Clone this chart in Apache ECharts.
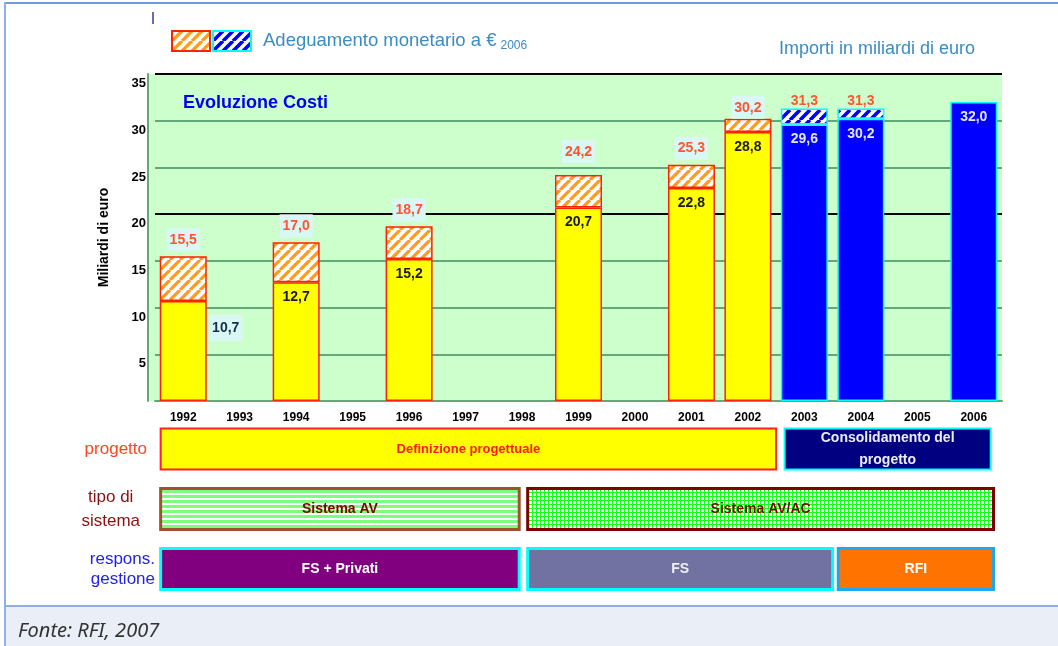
<!DOCTYPE html>
<html>
<head>
<meta charset="utf-8">
<title>Evoluzione Costi</title>
<script src="https://cdn.jsdelivr.net/npm/echarts@6.0.0/dist/echarts.min.js"></script>
<style>
  html, body { margin: 0; padding: 0; background: #fff; }
  #frame { position: absolute; left: 0; top: 0; width: 1058px; height: 646px; overflow: hidden; }
  #frame .top { position: absolute; left: 4px; top: 2px; right: 0; height: 2px; background: #6f9bd6; }
  #frame .side { position: absolute; left: 4px; top: 2px; bottom: 0; width: 2px; background: #8fb2e2; }
  #frame .foot { position: absolute; left: 6px; right: 0; top: 605px; bottom: 0; background: #e9eef7; border-top: 2px solid #8fb0e0; }
  #main { position: absolute; left: 0; top: 0; width: 1058px; height: 646px; }
</style>
</head>
<body>
<div id="frame"><div class="top"></div><div class="side"></div><div class="foot"></div></div>
<div id="main"></div>
<script>
// dati (miliardi di euro)
const years = ['1992', '1993', '1994', '1995', '1996', '1997', '1998', '1999',
  '2000', '2001', '2002', '2003', '2004', '2005', '2006'];
const baseCost = [10.7, null, 12.7, null, 15.2, null, null, 20.7, null, 22.8, 28.8, 29.6, 30.2, null, 32.0];
const totalCost = [15.5, null, 17.0, null, 18.7, null, null, 24.2, null, 25.3, 30.2, 31.3, 31.3, null, null];
const firstBlueYear = 2003;

// fasce sotto il grafico
const rows = ['progetto', 'tipo di\nsistema', 'respons.\ngestione'];
const bandNames = ['Definizione progettuale', 'Consolidamento del\nprogetto', 'Sistema AV',
  'Sistema AV/AC', 'FS + Privati', 'FS', 'RFI'];
const bandRow = [0, 0, 1, 1, 2, 2, 2];
const bandFrom = [1991.6, 2002.65, 1991.6, 1998.1, 1991.6, 1998.1, 2003.6];
const bandTo = [2002.5, 2006.3, 1997.95, 2006.35, 1997.95, 2003.5, 2006.35];

const FONT = '"Liberation Sans", Arial, sans-serif';

function canvas(w, h) {
  const c = document.createElement('canvas');
  c.width = w; c.height = h;
  const g = c.getContext('2d');
  g.fillStyle = '#fff';
  g.fillRect(0, 0, w, h);
  return [c, g];
}
function hatch(color, lw) {
  const s = 10;
  const [c, g] = canvas(s, s);
  g.strokeStyle = color;
  g.lineWidth = lw;
  g.beginPath();
  for (const o of [-s, 0, s]) { g.moveTo(o, s); g.lineTo(o + s, 0); }
  g.stroke();
  return { image: c, repeat: 'repeat' };
}
function stripes() {
  const [c, g] = canvas(4, 5);
  g.fillStyle = '#7dff7d';
  g.fillRect(0, 0, 4, 3);
  return { image: c, repeat: 'repeat' };
}
function checks() {
  const [c, g] = canvas(4, 4);
  g.fillStyle = '#1aff1a';
  g.fillRect(0, 0, 4, 1);
  g.fillRect(0, 0, 1, 4);
  return { image: c, repeat: 'repeat' };
}
const orangeHatch = hatch('#ff9a1a', 3.2);
const blueHatch = hatch('#0000ff', 3.6);

const bandStyle = [
  { fill: '#ffff00', stroke: '#ff2020', lw: 2, text: '#ff1a1a', size: 13 },
  { fill: '#000080', stroke: '#00ffff', lw: 2, text: '#ececff', size: 14 },
  { fill: stripes(), stroke: '#a0522d', lw: 3, text: '#800000', size: 14 },
  { fill: checks(), stroke: '#800000', lw: 3, text: '#800000', size: 14 },
  { fill: '#800080', stroke: '#00ffff', lw: 3, text: '#ffffff', size: 14 },
  { fill: '#7272a2', stroke: '#00ffff', lw: 3, text: '#f0f0f0', size: 14 },
  { fill: '#ff7400', stroke: '#1ea7ee', lw: 3, text: '#ffffff', size: 14 },
];

const fmt = v => v.toFixed(1).replace('.', ',');
const isBlue = i => +years[i] >= firstBlueYear;
const adjust = totalCost.map((t, i) => t == null ? null : +(t - baseCost[i]).toFixed(1));
const pick = (arr, blue) => arr.map((v, i) => (v != null && isBlue(i) === blue) ? v : '-');
const topGap = { '1999': 12, '2002': 0 };

const myChart = echarts.init(document.getElementById('main'));

const barLabel = {
  show: true, fontFamily: FONT, fontSize: 14, fontWeight: 'bold',
};

const option = {
  animation: false,
  textStyle: { fontFamily: FONT },
  title: [
    { text: 'Evoluzione Costi', left: 183, top: 94, padding: 0,
      textStyle: { color: '#0000ee', fontSize: 18, fontWeight: 'bold', fontFamily: FONT } },
    { text: 'Importi in miliardi di euro', left: 779, top: 40, padding: 0,
      textStyle: { color: '#3a8cc4', fontSize: 18, fontWeight: 'normal', fontFamily: FONT } },
    { text: 'Fonte: RFI, 2007', left: 18, top: 621, padding: 0,
      textStyle: { color: '#333', fontSize: 20, fontStyle: 'italic', fontWeight: 'normal', fontFamily: 'Noto Sans' } },
  ],
  legend: {
    left: 171, top: 30, padding: 0, itemWidth: 38, itemHeight: 20, itemGap: 1, icon: 'rect',
    selectedMode: false,
    data: ['Adeguamento fino al 2002', 'Adeguamento monetario'],
    formatter: n => n === 'Adeguamento monetario' ? '{m|Adeguamento monetario a €}{s|2006}' : '',
    textStyle: {
      rich: {
        m: { color: '#3a8cc4', fontSize: 18.5, fontFamily: FONT, padding: [0, 4, 0, 7] },
        s: { color: '#3a8cc4', fontSize: 12, fontFamily: FONT, padding: [9, 0, 0, 0] },
      },
    },
  },
  graphic: [
    { type: 'rect', shape: { x: 149, y: 74, width: 6, height: 327 }, style: { fill: '#ccffcc' }, z: -10 },
    { type: 'line', shape: { x1: 153, y1: 12, x2: 153, y2: 24 }, style: { stroke: '#3b3b9a', lineWidth: 1.5 } },
  ],
  grid: [
    { left: 155, top: 74, width: 847, height: 327, show: true, backgroundColor: '#ccffcc', borderWidth: 0 },
    { left: 155, top: 419, width: 847, height: 180 },
  ],
  xAxis: [
    {
      type: 'category', gridIndex: 0, data: years,
      axisLine: { lineStyle: { color: '#62a878', width: 2 } },
      axisTick: { show: false },
      axisLabel: { color: '#000', fontWeight: 'bold', fontSize: 12, margin: 11, interval: 0 },
    },
    { type: 'value', gridIndex: 1, min: 1991.5, max: 2006.5, show: false },
  ],
  yAxis: [
    {
      type: 'value', gridIndex: 0, min: 0, max: 35, interval: 5, offset: 7,
      name: 'Miliardi di euro', nameLocation: 'middle', nameGap: 37, nameRotate: 90,
      nameTextStyle: { color: '#000', fontWeight: 'bold', fontSize: 14 },
      axisLine: { show: true, lineStyle: { color: '#62a878', width: 2 } },
      axisTick: { show: false },
      axisLabel: {
        color: '#000', fontWeight: 'bold', fontSize: 13, margin: 2,
        verticalAlign: 'top', padding: [3, 0, 0, 0],
        formatter: v => v === 0 ? '' : String(v),
      },
      splitLine: {
        lineStyle: {
          width: 2,
          color: ['#62a878', '#62a878', '#62a878', '#62a878', '#000', '#62a878', '#62a878', '#000'],
        },
      },
    },
    {
      type: 'category', gridIndex: 1, data: rows, inverse: true,
      axisLine: { show: false }, axisTick: { show: false },
      axisLabel: {
        margin: 0,
        formatter: (v, i) => '{' + ['p', 't', 'r'][i] + '|' + v + '}',
        rich: {
          p: { color: '#ff4422', fontSize: 17, fontFamily: FONT, padding: [0, 8, 0, 0] },
          t: { color: '#8b1010', fontSize: 17, fontFamily: FONT, lineHeight: 24, align: 'center', padding: [0, 15, 0, 0] },
          r: { color: '#2222ee', fontSize: 17, fontFamily: FONT, lineHeight: 20, align: 'right' },
        },
      },
    },
  ],
  series: [
    {
      name: 'Costo fino al 2002', type: 'bar', stack: 'costi', barWidth: 47,
      itemStyle: { color: '#ffff00', borderColor: '#ff2200', borderWidth: 1.5 },
      label: Object.assign({}, barLabel, {
        position: 'insideTop', distance: 8, color: '#1a1a1a',
        formatter: p => fmt(p.value),
      }),
      data: pick(baseCost, false).map((v, i) => i === 0 ? {
        value: v,
        label: { position: [66, 27], align: 'center', verticalAlign: 'middle',
          backgroundColor: '#d9f7f4', padding: [6, 3], color: '#1c2b4a' },
      } : v),
    },
    {
      name: 'Adeguamento fino al 2002', type: 'bar', stack: 'costi', barWidth: 47,
      itemStyle: { color: orangeHatch, borderColor: '#ff2200', borderWidth: 1.5 },
      label: Object.assign({}, barLabel, {
        position: 'top', distance: 5, color: '#ff5533',
        backgroundColor: '#d9f7f4', padding: [5, 3, 4, 3],
        formatter: p => fmt(totalCost[p.dataIndex]),
      }),
      data: pick(adjust, false).map((v, i) => topGap[years[i]] != null
        ? { value: v, label: { distance: topGap[years[i]] } } : v),
    },
    {
      name: 'Costo dal 2003', type: 'bar', stack: 'costi', barWidth: 47,
      itemStyle: { color: '#0000ff', borderColor: '#00ffff', borderWidth: 1.5 },
      label: Object.assign({}, barLabel, {
        position: 'insideTop', distance: 8, color: '#e4e4ff',
        formatter: p => fmt(p.value),
      }),
      data: pick(baseCost, true),
    },
    {
      name: 'Adeguamento monetario', type: 'bar', stack: 'costi', barWidth: 47,
      itemStyle: { color: blueHatch, borderColor: '#00ffff', borderWidth: 1.5 },
      label: Object.assign({}, barLabel, {
        position: 'top', distance: 0, color: '#ff5533',
        formatter: p => fmt(totalCost[p.dataIndex]),
      }),
      data: pick(adjust, true),
    },
    {
      type: 'custom', xAxisIndex: 1, yAxisIndex: 1, silent: true,
      encode: { x: [0, 1], y: 2 },
      data: bandNames.map((n, i) => [bandFrom[i], bandTo[i], bandRow[i]]),
      renderItem: (params, api) => {
        const i = params.dataIndex;
        const st = bandStyle[i];
        const a = api.coord([api.value(0), api.value(2)]);
        const b = api.coord([api.value(1), api.value(2)]);
        const h = api.size([0, 1])[1] * 0.68;
        return {
          type: 'group',
          children: [
            { type: 'rect', shape: { x: a[0], y: a[1] - h / 2, width: b[0] - a[0], height: h },
              style: { fill: st.fill, stroke: st.stroke, lineWidth: st.lw } },
            { type: 'text', x: (a[0] + b[0]) / 2, y: a[1],
              style: { text: bandNames[i], align: 'center', verticalAlign: 'middle', fill: st.text,
                font: 'bold ' + st.size + 'px ' + FONT, lineHeight: 22 } },
          ],
        };
      },
    },
  ],
};
myChart.setOption(option);
</script>
</body>
</html>
